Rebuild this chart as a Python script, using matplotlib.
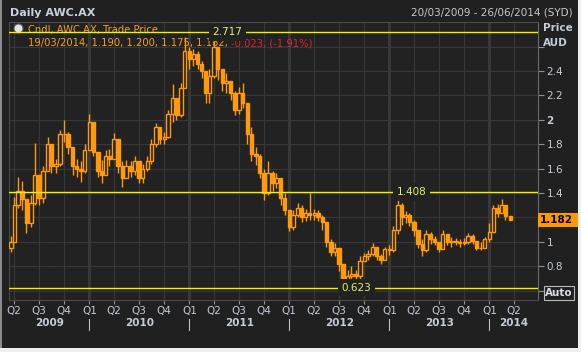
import matplotlib
matplotlib.use("Agg")
import matplotlib.pyplot as plt
import matplotlib.dates as mdates
import matplotlib.transforms as mtransforms
from matplotlib.patches import Rectangle
import numpy as np
import pandas as pd

# semi-monthly samples (first bar 20/03/2009, last 19/03/2014)
dates = (pd.to_datetime(["2009-03-20"])
         .append(pd.date_range("2009-04-01", "2014-03-01", freq="SMS"))
         .append(pd.to_datetime(["2014-03-19"])))

first_open = 0.95
close = [
    # 2009
    1.00, 1.30, 1.42, 1.35, 1.15, 1.32, 1.55, 1.36, 1.58, 1.80, 1.62, 1.64, 1.88, 1.88, 1.78, 1.62, 1.60, 1.58, 1.75,
    # 2010
    1.98, 1.74, 1.58, 1.55, 1.70, 1.68, 1.84, 1.62, 1.52, 1.62, 1.58, 1.66, 1.52, 1.60, 1.66, 1.80, 1.94, 1.84, 1.86, 2.05, 2.18, 2.04, 2.26, 2.56,
    # 2011
    2.50, 2.54, 2.46, 2.40, 2.22, 2.36, 2.60, 2.42, 2.30, 2.32, 2.22, 2.08, 2.22, 2.14, 1.88, 1.72, 1.70, 1.56, 1.40, 1.56, 1.48, 1.52, 1.36, 1.26,
    # 2012
    1.12, 1.22, 1.28, 1.20, 1.24, 1.22, 1.24, 1.20, 1.16, 1.00, 0.92, 0.95, 0.82, 0.68, 0.72, 0.74, 0.72, 0.84, 0.88, 0.90, 0.96, 0.88, 0.85, 0.94,
    # 2013
    0.93, 1.10, 1.30, 1.20, 1.22, 1.16, 1.10, 0.98, 0.93, 1.06, 1.02, 1.00, 0.94, 1.06, 1.00, 1.01, 1.00, 0.99, 1.00, 1.05, 1.01, 0.95, 0.95, 1.02,
    # 2014
    1.08, 1.28, 1.24, 1.30, 1.21, 1.182,
]
high = [
    1.05, 1.37, 1.53, 1.50, 1.30, 1.38, 1.81, 1.52, 1.62, 1.86, 1.76, 1.68, 1.92, 2.00, 1.90, 1.78, 1.68, 1.66, 1.80,
    2.05, 1.90, 1.72, 1.67, 1.75, 1.76, 1.89, 1.80, 1.66, 1.67, 1.66, 1.70, 1.62, 1.64, 1.70, 1.84, 1.97, 1.93, 1.90, 2.08, 2.29, 2.16, 2.30, 2.68,
    2.60, 2.58, 2.56, 2.48, 2.40, 2.42, 2.717, 2.58, 2.42, 2.38, 2.32, 2.24, 2.27, 2.30, 2.10, 1.94, 1.78, 1.72, 1.60, 1.66, 1.58, 1.56, 1.48, 1.40,
    1.24, 1.26, 1.32, 1.30, 1.27, 1.40, 1.27, 1.26, 1.22, 1.13, 1.02, 0.99, 0.91, 0.76, 0.77, 0.80, 0.77, 0.88, 0.91, 0.93, 0.99, 0.94, 0.90, 0.96,
    0.97, 1.13, 1.408, 1.32, 1.25, 1.24, 1.18, 1.10, 1.02, 1.10, 1.08, 1.05, 1.00, 1.10, 1.06, 1.04, 1.03, 1.02, 1.03, 1.07, 1.06, 1.00, 1.00, 1.04,
    1.15, 1.30, 1.31, 1.35, 1.28, 1.200,
]
low = [
    0.92, 1.00, 1.28, 1.26, 1.07, 1.12, 1.30, 1.30, 1.32, 1.58, 1.56, 1.56, 1.62, 1.82, 1.72, 1.55, 1.53, 1.49, 1.56,
    1.75, 1.70, 1.53, 1.48, 1.55, 1.62, 1.68, 1.56, 1.45, 1.52, 1.53, 1.55, 1.48, 1.48, 1.58, 1.64, 1.78, 1.80, 1.80, 1.85, 1.98, 2.00, 2.02, 2.28,
    2.42, 2.44, 2.42, 2.34, 2.14, 2.14, 2.34, 2.33, 2.24, 2.22, 2.16, 2.04, 2.05, 2.10, 1.80, 1.66, 1.63, 1.52, 1.34, 1.38, 1.42, 1.44, 1.30, 1.22,
    1.09, 1.10, 1.20, 1.16, 1.17, 1.18, 1.18, 1.17, 1.10, 0.96, 0.88, 0.88, 0.76, 0.623, 0.64, 0.66, 0.68, 0.69, 0.84, 0.85, 0.88, 0.85, 0.82, 0.86,
    0.89, 0.92, 1.06, 1.14, 1.15, 1.13, 1.05, 0.95, 0.88, 0.92, 0.98, 0.97, 0.92, 0.94, 0.97, 0.96, 0.97, 0.96, 0.97, 0.98, 0.98, 0.93, 0.93, 0.97,
    1.00, 1.10, 1.20, 1.24, 1.18, 1.175,
]

# last daily bar shown in the header
last_day = "19/03/2014"
last_ohlc = [1.190, 1.200, 1.175, 1.182]
prev_close = 1.205

view = ("2009-03-13", "2014-06-26")
price_ticks = [0.6, 0.8, 1.0, 1.2, 1.4, 1.6, 1.8, 2.0, 2.2, 2.4, 2.6]
hidden_ticks = (0.6, 1.2, 2.6)   # covered by Auto / last price / AUD in the original

BG = "#222222"
PANEL = "#202020"
GRID = "#383838"
ORANGE = "#ff9a0a"
TXT_OR = "#f0a030"
RED = "#e8202a"
YELLOW = "#f2f200"
LBL_Y = "#e4f070"
TICK = "#c4ccd8"

W, H = 581, 352
fig = plt.figure(figsize=(W / 100, H / 100), dpi=100, facecolor="#efefef")
fig.patches.append(Rectangle((2 / W, 4 / H), 576 / W, 348 / H, transform=fig.transFigure,
                             fc=PANEL, ec="none", zorder=-10))
fig.patches.append(Rectangle((0, 4 / H), 2 / W, 348 / H, transform=fig.transFigure,
                             fc="#8c8c8c", ec="none", zorder=-10))

ax = fig.add_axes([9 / W, 1 - 299.5 / H, 528.5 / W, 277.8 / H])
ax.set_facecolor(BG)

x = mdates.date2num(dates)
close = np.array(close)
high = np.array(high)
low = np.array(low)
opens = np.r_[first_open, close[:-1]]
up = close >= opens

ax.vlines(x, low, high, color=ORANGE, lw=1.0, zorder=3)
ax.bar(x[up], (close - opens)[up], bottom=opens[up], width=12, facecolor=BG,
       edgecolor=ORANGE, lw=1.0, zorder=4)
ax.bar(x[~up], (opens - close)[~up], bottom=close[~up], width=12, facecolor=ORANGE,
       edgecolor=ORANGE, lw=1.0, zorder=4)

x0, x1 = mdates.date2num(pd.to_datetime(list(view)))
ax.set_xlim(x0, x1)
ax.set_ylim(0.527, 2.804)

# quarter ticks
quarters = pd.date_range("2009-04-01", "2014-04-01", freq="QS")
ax.set_xticks(mdates.date2num(quarters), ["Q%d" % q.quarter for q in quarters])
ax.tick_params(axis="x", length=3, color="#909090", labelcolor=TICK, labelsize=7.5, pad=2)
ax.grid(True, color=GRID, lw=0.8, zorder=0)
for q in quarters:
    if q.quarter == 1:
        ax.axvline(mdates.date2num(q), color="#404040", lw=1.8, zorder=0)

# price axis on the right
ax.yaxis.tick_right()
ax.set_yticks(price_ticks, ["" if v in hidden_ticks else "%g" % v for v in price_ticks])
ax.tick_params(axis="y", length=4, color="#909090", labelcolor=TICK, labelsize=7.5, pad=2.5)
for lbl in ax.get_yticklabels():
    if lbl.get_text() == "2":
        lbl.set_fontweight("bold")

for s in ax.spines.values():
    s.set_color("#4a4a4a")
ax.spines["right"].set_color("#6a6a6a")

# high / low reference lines
i_max = int(np.argmax(high))
i_min = int(np.argmin(low))
i_rebound = i_min + int(np.argmax(high[i_min:]))
for i, lvl in [(i_max, high[i_max]), (i_rebound, high[i_rebound]), (i_min, low[i_min])]:
    ax.axhline(lvl, color=YELLOW, lw=1, zorder=5)
    ax.annotate("%.3f" % lvl, (x[i], lvl), xytext=(-1, 0), textcoords="offset points",
                ha="left", va="center", color=LBL_Y, fontsize=7.5, zorder=6,
                bbox=dict(boxstyle="square,pad=0.35", fc=BG, ec="none"))

# legend lines
ax.plot([0.017], [0.977], transform=ax.transAxes, marker="o", ms=6.5, mfc="#dce4f0",
        mec="#606060", mew=0.8, zorder=2, clip_on=False)
ax.text(0.036, 0.969, "Cndl, AWC.AX, Trade Price", transform=ax.transAxes, color=TXT_OR,
        fontsize=7.2, va="center", ha="left", zorder=2)
chg = last_ohlc[3] - prev_close
t1 = ax.text(0.036, 0.922, "%s, %.3f, %.3f, %.3f, %.3f, " % (last_day, *last_ohlc),
             transform=ax.transAxes, color=TXT_OR, fontsize=7.2, va="center", ha="left", zorder=2)
ax.annotate("%.3f, (%.2f%%)" % (chg, chg / prev_close * 100), xy=(1, 0.5), xycoords=t1,
            va="center", ha="left", color=RED, fontsize=7.2, zorder=2)

# last price box
blend = mtransforms.blended_transform_factory(ax.transAxes, ax.transData)
ax.add_patch(Rectangle((1.0, close[-1] - 0.058), 40 / 528.5, 0.116, transform=blend,
                       fc="#ff9900", ec="none", clip_on=False, zorder=10))
ax.text(1.0 + 2 / 528.5, close[-1], "%.3f" % close[-1], transform=blend, va="center",
        ha="left", color="black", fontweight="bold", fontsize=7.5, zorder=11, clip_on=False)

# years row
yb = mtransforms.blended_transform_factory(ax.transData, fig.transFigure)
for yr in range(2009, 2015):
    a = max(mdates.date2num(pd.Timestamp(yr, 1, 1)), x0)
    b = min(mdates.date2num(pd.Timestamp(yr + 1, 1, 1)), x1)
    ax.text((a + b) / 2, 1 - 323.5 / H, str(yr), transform=yb, ha="center", va="center",
            fontweight="bold", fontsize=7.5, color=TICK)
    if yr > 2009:
        xs = mdates.date2num(pd.Timestamp(yr, 1, 1))
        ax.plot([xs, xs], [1 - 319 / H, 1 - 330 / H], transform=yb, color="#c0c0c0",
                lw=0.8, clip_on=False)

# header
fig.text(10 / W, 1 - 12.5 / H, "Daily AWC.AX", fontsize=8, fontweight="bold",
         color="#c8d0dc", va="center")
fig.text(573 / W, 1 - 12.7 / H, "20/03/2009 - 26/06/2014 (SYD)", ha="right", va="center",
         fontsize=7.5, color="#c8c8c8")
fig.text(543 / W, 1 - 28.3 / H, "Price", fontsize=7.5, fontweight="bold", color=TICK, va="center")
fig.text(543 / W, 1 - 42.7 / H, "AUD", fontsize=7.5, fontweight="bold", color=TICK, va="center")
fig.text(559 / W, 1 - 293 / H, "Auto", ha="center", va="center", fontsize=7.5,
         fontweight="bold", color="#d8dce4",
         bbox=dict(boxstyle="square,pad=0.15", fc="none", ec="#b8b8b8", lw=0.8))

fig.savefig("out.png", dpi=100, facecolor=fig.get_facecolor())
